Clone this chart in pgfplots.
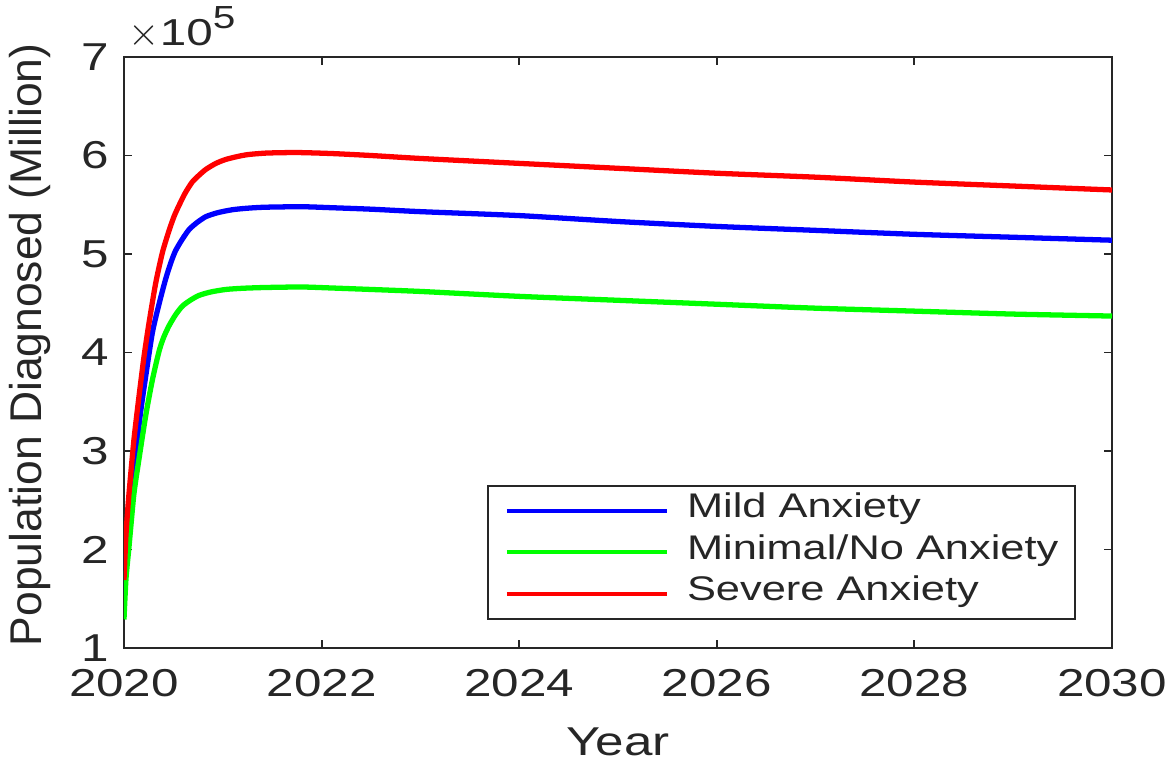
\documentclass[border=0pt]{standalone}
\usepackage{fontspec}
\setmainfont{Liberation Sans}[FakeStretch=1.27]
\newfontfamily\ylabfont{Liberation Sans}
\usepackage{pgfplots}
\pgfplotsset{compat=1.18}
\definecolor{axgray}{HTML}{262626}
\definecolor{cblue}{rgb}{0,0,1}
\definecolor{cgreen}{rgb}{0,1,0}
\definecolor{cred}{rgb}{1,0,0}
\begin{document}
\begin{tikzpicture}
\useasboundingbox (-44.64pt,-40.32pt) rectangle (378.72pt,233.28pt);
\begin{axis}[
  scale only axis,
  clip mode=individual,
  width=355.68pt, height=212.76pt,
  xmin=2020, xmax=2030, ymin=1, ymax=7,
  xtick={2020,2022,...,2030}, ytick={1,2,...,7},
  /pgf/number format/assume math mode=true,
  xticklabel style={/pgf/number format/1000 sep={}, font=\fontsize{14}{16}\selectfont, yshift=-4pt},
  yticklabel style={font=\fontsize{14}{16}\selectfont, xshift=-2pt},
  tick align=inside,
  major tick length=2.9pt,
  axis line style={axgray, line width=0.7pt},
  tick style={axgray, line width=0.7pt},
  every tick label/.append style={text=axgray},
  xlabel={Year},
  ylabel={\ylabfont Population Diagnosed (Million)},
  xlabel style={at={(axis description cs:0.5,-0.159)}, anchor=center, font=\fontsize{14.5}{16}\selectfont, text=axgray},
  ylabel style={at={(axis description cs:-0.095,0.513)}, anchor=center, font=\fontsize{16}{18}\selectfont, text=axgray},
  legend cell align=left,
  legend style={at={(0.9636,0.0474)}, anchor=south east, draw=axgray, line width=0.7pt,
    font=\fontsize{12.3}{14}\selectfont, text=axgray,
    inner xsep=6pt, inner ysep=1.5pt,
    nodes={inner sep=0pt, text height=10pt, text depth=5pt},
    /tikz/every odd column/.append style={column sep=6.5pt}},
  legend image code/.code={\draw[#1, line width=1.5pt] (0pt,0pt) -- (57.6pt,0pt);},
  every axis plot/.append style={line width=1.9pt, smooth, tension=0.4},
]
\addplot[cblue] coordinates {
(2020.000,1.54) (2020.030,2.00) (2020.067,2.38) (2020.118,2.96) (2020.169,3.40)
(2020.220,3.76) (2020.287,4.20) (2020.354,4.49) (2020.420,4.74) (2020.470,4.90)
(2020.520,5.03) (2020.590,5.15) (2020.660,5.25) (2020.740,5.32) (2020.830,5.38)
(2020.950,5.42) (2021.100,5.45) (2021.250,5.465) (2021.430,5.475) (2021.800,5.48)
(2022.100,5.47) (2022.500,5.455) (2023.000,5.43) (2024.000,5.39) (2025.000,5.33)
(2026.000,5.28) (2027.000,5.24) (2028.000,5.20) (2029.000,5.17) (2030.000,5.14)};
\addlegendentry{Mild Anxiety}
\addplot[cgreen] coordinates {
(2020.000,1.29) (2020.020,1.70) (2020.050,2.02) (2020.100,2.56) (2020.152,2.92)
(2020.220,3.36) (2020.287,3.72) (2020.354,4.01) (2020.400,4.15) (2020.455,4.27)
(2020.520,4.38) (2020.590,4.47) (2020.670,4.53) (2020.760,4.58) (2020.880,4.615)
(2021.030,4.64) (2021.200,4.652) (2021.430,4.66) (2021.800,4.665) (2022.100,4.655)
(2022.500,4.64) (2023.000,4.62) (2024.000,4.57) (2025.000,4.53) (2026.000,4.49)
(2027.000,4.45) (2028.000,4.42) (2029.000,4.39) (2030.000,4.37)};
\addlegendentry{Minimal/No Anxiety}
\addplot[cred] coordinates {
(2020.000,1.69) (2020.020,2.15) (2020.050,2.56) (2020.100,3.11) (2020.150,3.54)
(2020.200,3.94) (2020.250,4.28) (2020.320,4.70) (2020.390,5.02) (2020.460,5.25)
(2020.510,5.39) (2020.560,5.50) (2020.620,5.62) (2020.690,5.73) (2020.760,5.80)
(2020.830,5.86) (2020.930,5.92) (2021.030,5.96) (2021.150,5.99) (2021.260,6.01)
(2021.450,6.025) (2021.750,6.03) (2022.100,6.02) (2022.500,6.00) (2023.000,5.97)
(2024.000,5.92) (2025.000,5.87) (2026.000,5.82) (2027.000,5.78) (2028.000,5.73)
(2029.000,5.69) (2030.000,5.65)};
\addlegendentry{Severe Anxiety}
\node[anchor=base west, inner sep=0pt, text=axgray] at (rel axis cs:0,1) [xshift=1.5pt, yshift=4.3pt] {\fontsize{13.5}{15}\selectfont$\times$10\raisebox{6pt}{\fontsize{11.5}{12}\selectfont 5}};
\end{axis}
\end{tikzpicture}
\end{document}
